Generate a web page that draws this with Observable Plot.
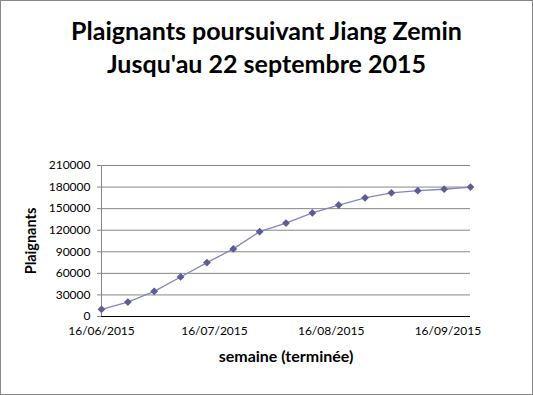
<!DOCTYPE html>
<html><head><meta charset="utf-8">
<script src="https://cdn.jsdelivr.net/npm/d3@7"></script>
<script src="https://cdn.jsdelivr.net/npm/@observablehq/plot@0.6"></script>
<style>
body{margin:0;background:#fff}
#wrap{position:relative;width:533px;height:395px;box-sizing:border-box;border:1px solid #878787;background:#fff;font-family:Lato,sans-serif;overflow:hidden}
#title{position:absolute;left:0;right:0;top:13px;text-align:center;font-weight:bold;font-size:25px;line-height:33px;color:#000}
#chart{position:absolute;left:0;top:129px}
</style></head><body>
<div id="wrap"><div id="title"></div><div id="chart"></div></div>
<script>
const titleLines = ["Plaignants poursuivant Jiang Zemin", "Jusqu'au 22 septembre 2015"];
const weeks = ["2015-06-16","2015-06-23","2015-06-30","2015-07-07","2015-07-14","2015-07-21","2015-07-28","2015-08-04","2015-08-11","2015-08-18","2015-08-25","2015-09-01","2015-09-08","2015-09-15","2015-09-22"];
const plaignants = [10000,20000,35000,55000,75000,94000,118000,130000,144000,155000,165000,172000,175000,177000,180000];
const yTicks = [0,30000,60000,90000,120000,150000,180000,210000];
const xTicks = ["2015-06-16","2015-07-16","2015-08-16","2015-09-16"];
const yLabel = "Plaignants";
const xLabel = "semaine (terminée)";

document.getElementById("title").innerHTML = titleLines.join("<br>");
const rows = weeks.map((w, i) => ({date: new Date(w), value: plaignants[i]}));

const chart = Plot.plot({
  width: 531,
  height: 240,
  marginLeft: 100,
  marginRight: 62,
  marginTop: 35,
  marginBottom: 54,
  style: {fontFamily: "Lato, sans-serif", fontSize: "12px", color: "#000", background: "transparent", overflow: "visible"},
  x: {type: "utc", domain: [rows[0].date, rows[rows.length - 1].date]},
  y: {domain: [0, 210000]},
  marks: [
    Plot.gridY(yTicks, {stroke: "#868686", strokeOpacity: 1}),
    Plot.ruleX([rows[0].date], {stroke: "#868686"}),
    Plot.axisY(yTicks, {tickSize: 4, tickPadding: 7, stroke: "#868686", label: null, tickFormat: d => String(d)}),
    Plot.ruleY([0], {stroke: "#000"}),
    Plot.line(rows, {x: "date", y: "value", stroke: "#8585bd", strokeWidth: 1.3}),
    Plot.dot(rows, {x: "date", y: "value", symbol: "diamond2", r: 3.5, fill: "#5c5c96"}),
    Plot.axisX(xTicks.map(d => new Date(d)), {tickSize: 0, tickPadding: 10, tickFormat: d3.utcFormat("%d/%m/%Y"), label: null}),
    Plot.text([yLabel], {frameAnchor: "left", textAnchor: "middle", rotate: -90, dx: -70, fontWeight: "bold", fontSize: 14.5}),
    Plot.text([xLabel], {frameAnchor: "bottom", dy: 45, fontWeight: "bold", fontSize: 16})
  ]
});
document.getElementById("chart").appendChild(chart);
</script>
</body></html>
